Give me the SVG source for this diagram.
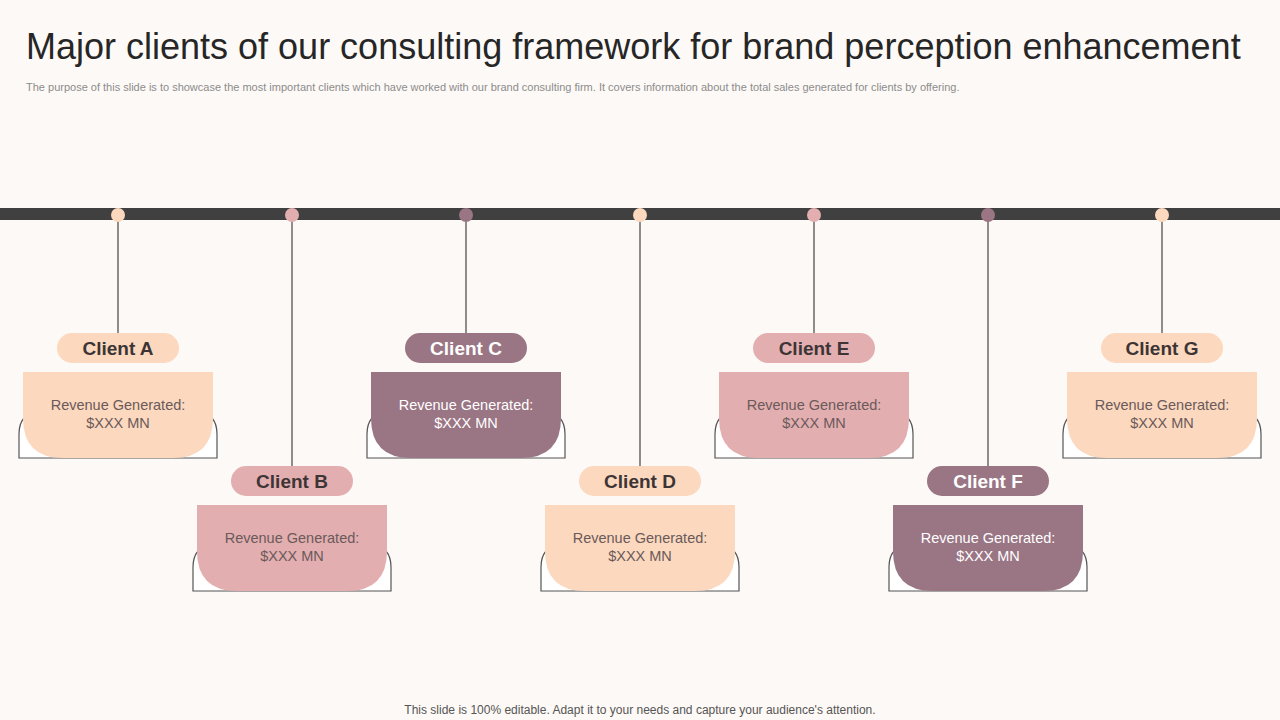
<svg xmlns="http://www.w3.org/2000/svg" width="1280" height="720" viewBox="0 0 1280 720">
<defs><style>
text{font-family:"Liberation Sans",Arial,sans-serif}
.ln{stroke:#444;stroke-width:1.2;fill:none}
.ol{stroke:#555;stroke-width:1.2;fill:#fff}
.pe{fill:#FCD8BE}.pk{fill:#E3AEB0}.mv{fill:#9A7584}
.cl{font-size:19px;font-weight:bold;text-anchor:middle;fill:#3d3535}
.clw{fill:#fff}
.rv{font-size:14.5px;text-anchor:middle;fill:#6a5a5a}
.rvw{fill:#fff}
</style>
<g id="node">
<path class="ol" d="M-99,86 V62 Q-99,52 -94,46 M94,46 Q99,52 99,62 V86 H-99"/>
</g>
</defs>
<rect width="1280" height="720" fill="#FDF9F6"/>
<text x="26" y="59" font-size="36" fill="#262626">Major clients of our consulting framework for brand perception enhancement</text>
<text x="26" y="91" font-size="11" fill="#8c8c8c">The purpose of this slide is to showcase the most important clients which have worked with our brand consulting firm. It covers information about the total sales generated for clients by offering.</text>
<text x="640" y="714" font-size="12" fill="#555" text-anchor="middle">This slide is 100% editable. Adapt it to your needs and capture your audience's attention.</text>
<rect x="0" y="208" width="1280" height="12" fill="#404040"/>
<g id="connectors">
<line class="ln" x1="118" y1="215" x2="118" y2="333"/>
<line class="ln" x1="292" y1="215" x2="292" y2="466"/>
<line class="ln" x1="466" y1="215" x2="466" y2="333"/>
<line class="ln" x1="640" y1="215" x2="640" y2="466"/>
<line class="ln" x1="814" y1="215" x2="814" y2="333"/>
<line class="ln" x1="988" y1="215" x2="988" y2="466"/>
<line class="ln" x1="1162" y1="215" x2="1162" y2="333"/>
</g>
<g id="dots">
<circle cx="118" cy="215" r="7" class="pe"/>
<circle cx="292" cy="215" r="7" class="pk"/>
<circle cx="466" cy="215" r="7" class="mv"/>
<circle cx="640" cy="215" r="7" class="pe"/>
<circle cx="814" cy="215" r="7" class="pk"/>
<circle cx="988" cy="215" r="7" class="mv"/>
<circle cx="1162" cy="215" r="7" class="pe"/>
</g>
<g id="clientA" transform="translate(118,372)">
<path class="ol" d="M-99,86 V62 Q-99,52 -94,46 L94,46 Q99,52 99,62 V86 Z"/>
<path class="pe" d="M-95,0 H95 V46 Q95,86 55,86 H-55 Q-95,86 -95,46 Z"/>
<rect class="pe" x="-61" y="-39" width="122" height="30" rx="15"/>
<text class="cl" y="-17">Client A</text>
<text class="rv" y="38">Revenue Generated:</text><text class="rv" y="56">$XXX  MN</text>
</g>
<g id="clientB" transform="translate(292,505)">
<path class="ol" d="M-99,86 V62 Q-99,52 -94,46 L94,46 Q99,52 99,62 V86 Z"/>
<path class="pk" d="M-95,0 H95 V46 Q95,86 55,86 H-55 Q-95,86 -95,46 Z"/>
<rect class="pk" x="-61" y="-39" width="122" height="30" rx="15"/>
<text class="cl" y="-17">Client B</text>
<text class="rv" y="38">Revenue Generated:</text><text class="rv" y="56">$XXX  MN</text>
</g>
<g id="clientC" transform="translate(466,372)">
<path class="ol" d="M-99,86 V62 Q-99,52 -94,46 L94,46 Q99,52 99,62 V86 Z"/>
<path class="mv" d="M-95,0 H95 V46 Q95,86 55,86 H-55 Q-95,86 -95,46 Z"/>
<rect class="mv" x="-61" y="-39" width="122" height="30" rx="15"/>
<text class="cl clw" y="-17">Client C</text>
<text class="rv rvw" y="38">Revenue Generated:</text><text class="rv rvw" y="56">$XXX  MN</text>
</g>
<g id="clientD" transform="translate(640,505)">
<path class="ol" d="M-99,86 V62 Q-99,52 -94,46 L94,46 Q99,52 99,62 V86 Z"/>
<path class="pe" d="M-95,0 H95 V46 Q95,86 55,86 H-55 Q-95,86 -95,46 Z"/>
<rect class="pe" x="-61" y="-39" width="122" height="30" rx="15"/>
<text class="cl" y="-17">Client D</text>
<text class="rv" y="38">Revenue Generated:</text><text class="rv" y="56">$XXX  MN</text>
</g>
<g id="clientE" transform="translate(814,372)">
<path class="ol" d="M-99,86 V62 Q-99,52 -94,46 L94,46 Q99,52 99,62 V86 Z"/>
<path class="pk" d="M-95,0 H95 V46 Q95,86 55,86 H-55 Q-95,86 -95,46 Z"/>
<rect class="pk" x="-61" y="-39" width="122" height="30" rx="15"/>
<text class="cl" y="-17">Client E</text>
<text class="rv" y="38">Revenue Generated:</text><text class="rv" y="56">$XXX  MN</text>
</g>
<g id="clientF" transform="translate(988,505)">
<path class="ol" d="M-99,86 V62 Q-99,52 -94,46 L94,46 Q99,52 99,62 V86 Z"/>
<path class="mv" d="M-95,0 H95 V46 Q95,86 55,86 H-55 Q-95,86 -95,46 Z"/>
<rect class="mv" x="-61" y="-39" width="122" height="30" rx="15"/>
<text class="cl clw" y="-17">Client F</text>
<text class="rv rvw" y="38">Revenue Generated:</text><text class="rv rvw" y="56">$XXX  MN</text>
</g>
<g id="clientG" transform="translate(1162,372)">
<path class="ol" d="M-99,86 V62 Q-99,52 -94,46 L94,46 Q99,52 99,62 V86 Z"/>
<path class="pe" d="M-95,0 H95 V46 Q95,86 55,86 H-55 Q-95,86 -95,46 Z"/>
<rect class="pe" x="-61" y="-39" width="122" height="30" rx="15"/>
<text class="cl" y="-17">Client G</text>
<text class="rv" y="38">Revenue Generated:</text><text class="rv" y="56">$XXX  MN</text>
</g>
</svg>
